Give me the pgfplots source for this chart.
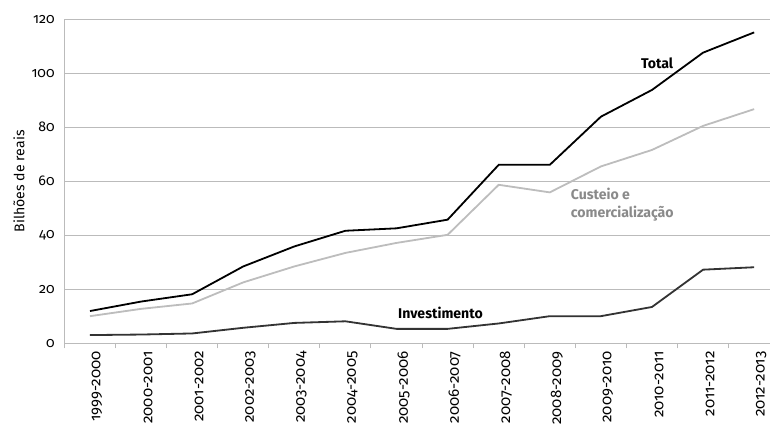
\documentclass[border=0pt]{standalone}
\usepackage{pgfplots}
\pgfplotsset{compat=1.18}
\usepackage{fontspec}
\setmainfont{Fira Sans}[Numbers=OldStyle]
\definecolor{gridgray}{HTML}{BBBBBB}
\definecolor{custgray}{HTML}{BDBDBD}
\definecolor{custtext}{HTML}{8A8A8A}
\definecolor{invgray}{HTML}{333333}
\begin{document}
\begin{tikzpicture}
\begin{axis}[
  scale only axis,
  width=700pt, height=322pt,
  xmin=-0.5, xmax=13.3,
  ymin=0, ymax=120,
  ytick={0,20,...,120},
  xtick={0,...,13},
  xticklabels={1999-2000,2000-2001,2001-2002,2002-2003,2003-2004,2004-2005,2005-2006,2006-2007,2007-2008,2008-2009,2009-2010,2010-2011,2011-2012,2012-2013},
  x tick label style={rotate=90, anchor=east, font=\fontsize{15}{16}\selectfont, yshift=-7pt},
  y tick label style={font=\fontsize{14}{15}\selectfont, xshift=-2pt},
  /pgf/number format/assume math mode=true,
  major x tick style={draw=none},
  minor xtick={-0.5,0.5,...,12.5},
  minor tick length=5pt,
  tick align=outside,
  major y tick style={draw=none},
  ymajorgrids,
  grid style={gridgray, line width=1pt},
  axis line style={gridgray, line width=1pt},
  minor x tick style={gridgray, line width=1pt},
  axis x line*=bottom,
  axis y line*=left,
  ylabel={Bilhões de reais},
  ylabel style={font=\fontsize{14}{15}\selectfont},
  clip=false,
]
\addplot[custgray, line width=1.8pt] coordinates {
(0,10.1) (1,12.8) (2,14.8) (3,22.6) (4,28.5) (5,33.5) (6,37.2) (7,40.2) (8,58.7) (9,55.9) (10,65.5) (11,71.6) (12,80.5) (13,86.7)};
\addplot[invgray, line width=1.8pt] coordinates {
(0,3.1) (1,3.3) (2,3.7) (3,5.8) (4,7.6) (5,8.2) (6,5.4) (7,5.4) (8,7.4) (9,10.1) (10,10.1) (11,13.5) (12,27.3) (13,28.2)};
\addplot[black, line width=1.8pt] coordinates {
(0,12) (1,15.5) (2,18.2) (3,28.5) (4,35.9) (5,41.7) (6,42.6) (7,45.8) (8,66.1) (9,66.1) (10,83.9) (11,93.8) (12,107.6) (13,115.1)};
\node[font=\fontsize{14}{15}\selectfont\bfseries] at (axis cs:11.1,103.8) {Total};
\node[font=\fontsize{14}{18}\selectfont\bfseries, text=custtext, align=left, anchor=west, fill=white, inner sep=1pt] at (axis cs:9.39,51.3) {Custeio e\\comercialização};
\node[font=\fontsize{14}{15}\selectfont\bfseries] at (axis cs:6.86,11.4) {Investimento};
\end{axis}
\path (current axis.north) ++(0,19pt) coordinate (topmargin);
\path (current bounding box.west) ++(-10pt,0) coordinate (leftmargin);
\end{tikzpicture}
\end{document}
